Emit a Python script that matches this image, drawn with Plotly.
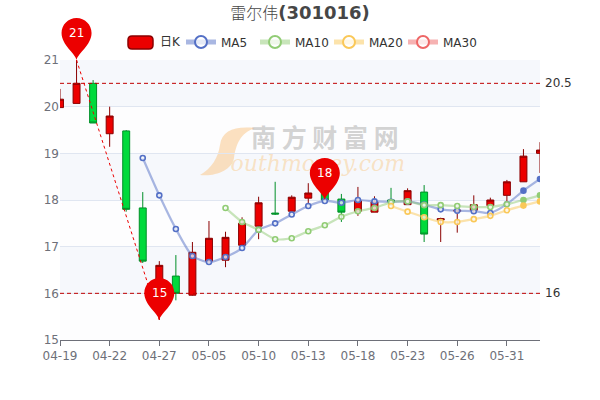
import plotly.graph_objects as go

dates = ["04-19","04-20","04-21","04-22","04-23","04-26","04-27","04-28","04-29","05-05",
         "05-06","05-07","05-10","05-11","05-12","05-13","05-14","05-17","05-18","05-19",
         "05-20","05-23","05-24","05-25","05-26","05-27","05-28","05-31","06-01","06-02"]
tick_labels = dates[0::3]
open_ = [19.98,20.07,20.50,19.42,19.48,17.83,15.90,16.37,15.96,16.69,16.71,17.03,17.44,17.72,17.76,18.04,18.17,18.02,17.76,17.74,18.00,17.90,18.17,17.57,17.76,17.78,17.88,18.10,18.39,19.00]
close = [20.16,20.50,19.65,19.80,17.80,16.69,16.60,16.00,16.88,17.18,17.20,17.50,17.94,17.70,18.06,18.15,18.00,17.74,17.98,17.96,17.96,18.20,17.27,17.60,17.78,17.90,18.00,18.39,18.94,19.07]
low = [19.98,20.07,19.65,19.14,17.75,16.65,15.43,15.85,15.95,16.65,16.56,17.03,17.16,17.68,17.75,17.90,18.00,17.53,17.66,17.74,17.94,17.90,17.10,17.10,17.30,17.70,17.87,17.85,18.39,18.58]
high = [20.38,21.00,20.57,20.00,19.50,18.17,16.69,16.82,17.10,17.55,17.32,17.63,18.07,18.39,18.10,18.36,18.17,18.13,18.28,18.08,18.26,18.25,18.32,17.62,17.78,18.10,18.05,18.43,19.09,19.24]
ma5 = [None]*5 + [18.90,18.10,17.38,16.80,16.67,16.78,16.97,17.36,17.50,17.69,17.87,17.98,17.94,18.00,17.97,17.96,17.97,17.90,17.80,17.77,17.76,17.72,17.91,18.20,18.45]
ma10 = [None]*10 + [17.83,17.53,17.36,17.16,17.18,17.33,17.46,17.64,17.76,17.83,17.95,17.97,17.89,17.89,17.87,17.85,17.85,17.91,18.00,18.10]
ma20 = [None]*20 + [17.87,17.75,17.63,17.53,17.53,17.59,17.66,17.78,17.88,17.97]
ma30 = [None]*30
mark_lines = [20.5, 16]
pins = [(1, 21, "21"), (6, 15.43, "15"), (16, 18, "18")]
ma_series = [("MA5", ma5, "84,112,198"), ("MA10", ma10, "145,204,117"), ("MA20", ma20, "250,200,88"), ("MA30", ma30, "238,102,102")]
FONT = "DejaVu Sans, Noto Sans CJK SC, sans-serif"
YMIN, YMAX = 15, 21
def px(x): return (x - 60) / 480.0
def py(y): return (340 - y) / 280.0

fig = go.Figure()
fig.add_trace(go.Scatter(x=["05-14"], y=[19.26], mode="text", text=["<b>南 方 财 富 网</b>"], showlegend=False, hoverinfo="skip",
    textposition="middle center", textfont=dict(size=25, color="rgba(150,150,150,0.42)", family="Noto Sans CJK SC")))
fig.add_trace(go.Scatter(x=["05-14"], y=[18.73], mode="text", text=["<i>outhmoney.com</i>\u00a0\u00a0"], showlegend=False, hoverinfo="skip",
    textposition="middle center", textfont=dict(size=22, color="rgba(250,190,110,0.4)", family="DejaVu Serif")))
fig.add_trace(go.Candlestick(x=dates, open=open_, high=high, low=low, close=close, name="日K", showlegend=False,
    increasing=dict(line=dict(color="#8A0000", width=1), fillcolor="#ec0000"),
    decreasing=dict(line=dict(color="#008F28", width=1), fillcolor="#00da3c"),
    whiskerwidth=0))
for name, vals, rgb in ma_series:
    fills = ["rgba(255,255,255,0.7)"] * 28 + ["rgb(%s)" % rgb] * 2
    fig.add_trace(go.Scatter(x=dates, y=vals, name=name, mode="lines+markers",
        line=dict(color="rgba(%s,0.5)" % rgb, width=2.2, shape="spline", smoothing=0.6),
        marker=dict(size=5, color=fills, line=dict(color="rgb(%s)" % rgb, width=1.6))))

shapes = []
for i in range(YMIN, YMAX):
    c = "#f6f8fc" if (YMAX - 1 - i) % 2 == 0 else "#fdfdfe"
    shapes.append(dict(type="rect", xref="paper", x0=0, x1=1, yref="y", y0=i, y1=i + 1,
                       fillcolor=c, line=dict(width=0), layer="below"))
for v in mark_lines:
    shapes.append(dict(type="line", xref="paper", x0=0, x1=1, yref="y", y0=v, y1=v,
                       line=dict(color="#c00000", width=1, dash="4px,3px"), layer="above"))
shapes.append(dict(type="line", xref="x", yref="y", x0=dates[pins[0][0]], y0=pins[0][1], x1=dates[pins[1][0]], y1=pins[1][1],
                   line=dict(color="#ec0000", width=1, dash="3px,3px"), layer="above"))
PIN = "M0,0 C-1.5,7 -15,15 -15,27 C-15,35.3 -8.3,42 0,42 C8.3,42 15,35.3 15,27 C15,15 1.5,7 0,0 Z"
ann = []
for i, v, t in pins:
    fx = i / (len(dates) - 1)
    fy = (v - YMIN) / (YMAX - YMIN)
    shapes.append(dict(type="path", xsizemode="pixel", ysizemode="pixel", xref="paper", yref="paper",
                       xanchor=fx, yanchor=fy, path=PIN, fillcolor="#ec0000", line=dict(width=0), layer="above"))
    ann.append(dict(x=fx, y=fy, xref="paper", yref="paper", xanchor="center", yanchor="middle", text=t, showarrow=False, yshift=27,
                    font=dict(color="white", size=12, family=FONT)))
for v in mark_lines:
    ann.append(dict(x=1, xref="paper", y=v, yref="y", text=str(v), showarrow=False, xanchor="left", xshift=3,
                    font=dict(color="#333", size=12, family=FONT)))
shapes.append(dict(type="path", xref="paper", yref="paper",
    path="M%f,%f C%f,%f %f,%f %f,%f C%f,%f %f,%f %f,%f C%f,%f %f,%f %f,%f C%f,%f %f,%f %f,%f Z" % (
        px(255),py(128), px(235),py(126), px(222),py(130), px(220),py(145),
        px(218),py(158), px(212),py(168), px(200),py(175),
        px(215),py(177), px(232),py(170), px(234),py(158),
        px(236),py(145), px(240),py(133), px(255),py(128)),
    fillcolor="rgba(250,205,150,0.6)", line=dict(width=0), layer="below"))
# 日K legend entry
R = 4
x0, x1, y0, y1 = 128, 153, 36, 49
shapes.append(dict(type="path", xref="paper", yref="paper",
    path="M%f,%f L%f,%f Q%f,%f %f,%f L%f,%f Q%f,%f %f,%f L%f,%f Q%f,%f %f,%f L%f,%f Q%f,%f %f,%f Z" % (
        px(x0+R),py(y0), px(x1-R),py(y0), px(x1),py(y0), px(x1),py(y0+R),
        px(x1),py(y1-R), px(x1),py(y1), px(x1-R),py(y1),
        px(x0+R),py(y1), px(x0),py(y1), px(x0),py(y1-R),
        px(x0),py(y0+R), px(x0),py(y0), px(x0+R),py(y0)),
    fillcolor="#ec0000", line=dict(color="#8A0000", width=1.5), layer="above"))
ann.append(dict(x=px(158), y=py(42), xref="paper", yref="paper", xanchor="left", yanchor="middle", text="日K",
                showarrow=False, font=dict(size=12, color="#333", family=FONT)))

fig.update_layout(
    width=600, height=400, autosize=False, margin=dict(l=60, r=60, t=60, b=60),
    paper_bgcolor="white", plot_bgcolor="white", boxgap=0.4,
    title=dict(text='<span style="font-size:16px;font-weight:300">雷尔伟</span><b>(301016)</b>', x=0.5, xanchor="center", y=0.968, yanchor="middle",
               font=dict(size=18, color="#464646", family=FONT)),
    legend=dict(orientation="h", x=px(181), xanchor="left", y=py(42), yanchor="middle",
                font=dict(size=12, color="#333", family=FONT), itemwidth=30, itemsizing="constant",
                entrywidth=29, entrywidthmode="pixels", bgcolor="rgba(0,0,0,0)", traceorder="normal"),
    xaxis=dict(type="category", categoryorder="array", categoryarray=dates, range=[0, 29], rangeslider=dict(visible=False),
               tickmode="array", tickvals=tick_labels, ticktext=tick_labels, showgrid=False,
               showline=True, linecolor="#6E7079", linewidth=1, ticks="outside", ticklen=5, tickcolor="#6E7079",
               tickfont=dict(size=12, color="#6E7079", family=FONT), zeroline=False),
    yaxis=dict(range=[YMIN, YMAX], tickvals=[15, 16, 17, 18, 19, 20, 21], showgrid=True, gridcolor="#E0E6F1", gridwidth=1,
               zeroline=False, showline=False, ticks="", tickfont=dict(size=12, color="#6E7079", family=FONT)),
    shapes=shapes, annotations=ann,
)
fig.write_html("out.html", config=dict(displayModeBar=False),
               post_script="document.body.style.margin='0';document.documentElement.style.overflow='hidden';")
